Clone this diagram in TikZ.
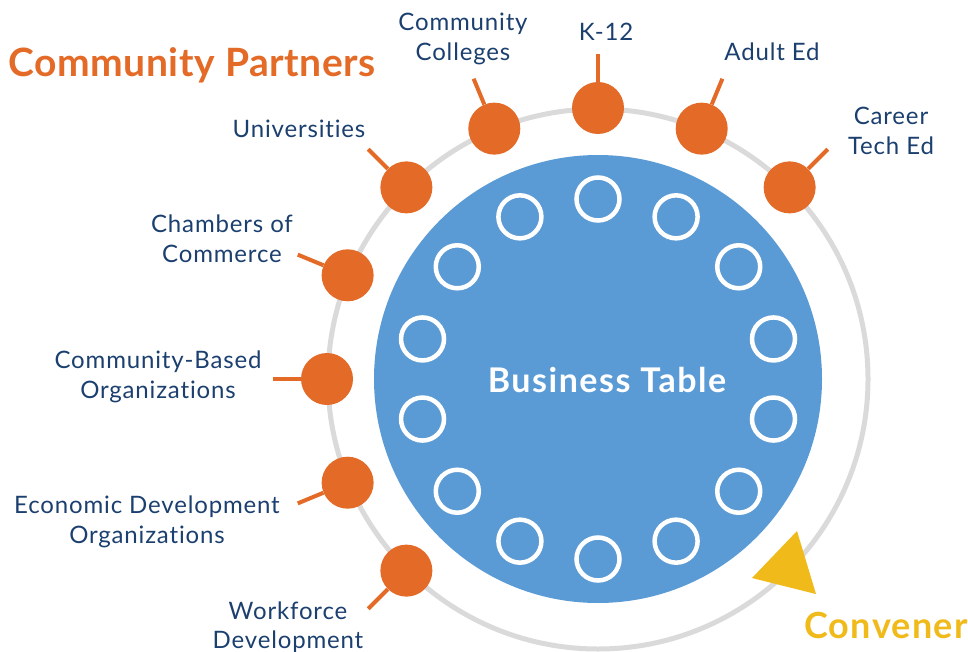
\documentclass[tikz,border=0pt]{standalone}
\usepackage{fontspec}
\setmainfont{Lato}
\newfontfamily\lblfont[LetterSpace=3.5,Ligatures={NoCommon,NoRare,NoContextual}]{Lato}
\newfontfamily\headfont[LetterSpace=1.5]{Lato}
\newfontfamily\btfont[LetterSpace=4.5]{Lato}
\newfontfamily\convfont[LetterSpace=3.5]{Lato}
\definecolor{tblue}{HTML}{5B9BD5}
\definecolor{porange}{HTML}{E36A27}
\definecolor{ringgray}{HTML}{DADADA}
\definecolor{txtblue}{HTML}{1B3F6E}
\definecolor{gold}{HTML}{F0BA1B}
\begin{document}
\begin{tikzpicture}[x=1pt,y=-1pt,
  partner/.style={circle,fill=porange,minimum size=52pt,inner sep=0pt},
  seat/.style={circle,draw=white,line width=4.5pt,minimum size=43pt,inner sep=0pt},
  stub/.style={draw=porange,line width=4pt},
  lbl/.style={text=txtblue,font=\lblfont\fontsize{24}{29.5}\selectfont,align=center,inner sep=0pt}]
\useasboundingbox (0,0) rectangle (968,652);
% ring
\node[circle,draw=ringgray,line width=5pt,minimum size=540pt,inner sep=0pt] (ring) at (598,379) {};
% table
\node[circle,fill=tblue,minimum size=448pt,inner sep=0pt] (table) at (598,379) {};
\node[font=\btfont\fontsize{34}{38}\selectfont\bfseries,text=white,anchor=base,inner sep=0pt] (bt) at (607,392) {Business Table};
% seats
\foreach \k in {0,...,13}
  \node[seat] (seat\k) at ({598+180*cos(90+\k*360/14)},{379-180*sin(90+\k*360/14)}) {};
% partners on the ring
\foreach \n/\a in {k12/90, ae/67.5, cte/45, cc/112.5, uni/135, cham/157.5, cbo/180, edo/202.5, wfd/225}{
  \node[partner] (\n) at ({598+271*cos(\a)},{379-271*sin(\a)}) {};
  \coordinate (\n s) at ({598+325*cos(\a)},{379-325*sin(\a)});
  \draw[stub] (\n) -- (\n s);
}
% labels
\node[lbl,anchor=base] (lk12) at (606,41) {K-12};
\node[lbl,anchor=base] (lae) at (772,61) {Adult Ed};
\node[lbl] (lcte) at (891,131) {Career\\Tech Ed};
\node[lbl] (lcc) at (463,39) {Community\\Colleges};
\node[lbl,anchor=base] (luni) at (299,138) {Universities};
\node[lbl] (lcham) at (222,239) {Chambers of\\Commerce};
\node[lbl] (lcbo) at (158,377) {Community-Based\\Organizations};
\node[lbl] (ledo) at (147,522) {Economic Development\\Organizations};
\node[lbl] (lwfd) at (288,627) {Workforce\\Development};
% titles
\node[text=porange,anchor=base west,inner sep=0pt,font=\headfont\fontsize{39}{44}\selectfont\bfseries] (cp) at (8,77) {Community Partners};
\node[text=gold,anchor=base west,inner sep=0pt,font=\convfont\fontsize{36}{42}\selectfont\bfseries] (conv) at (804,638) {Convener};
% convener arrowhead
\fill[gold] (797,531) coordinate (t1) -- (752,578) coordinate (t2) -- (816,594) coordinate (t3) -- cycle;
\end{tikzpicture}
\end{document}
